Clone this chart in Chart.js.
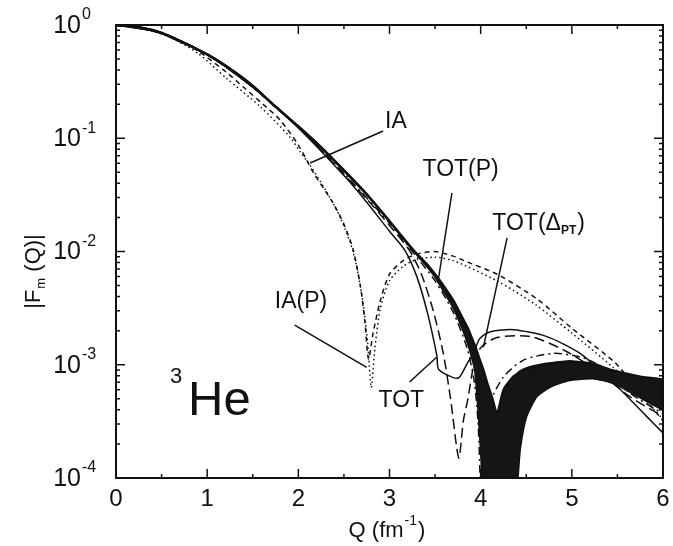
<!DOCTYPE html>
<html lang="en">
<head>
<meta charset="UTF-8">
<title>3He magnetic form factor</title>
<script src="https://cdn.jsdelivr.net/npm/chart.js"></script>
<style>
  body { margin: 0; background: #fff; }
  #formFactor { display: block; }
</style>
</head>
<body>
<canvas id="formFactor" width="673" height="546"></canvas>
<script>
const FONT = '"Liberation Sans", Arial, Helvetica, sans-serif';

// shaded band: upper and lower edge on a common Q grid
const bandQ  = [0, 0.25, 0.5, 0.75, 1.0, 1.25, 1.5, 1.75, 2.0, 2.25, 2.5, 2.75, 3.0, 3.25, 3.4, 3.5, 3.6, 3.7, 3.8, 3.86, 3.9, 3.94, 3.98, 4.01, 4.03, 4.07, 4.13, 4.18, 4.25, 4.36, 4.40, 4.43, 4.5, 4.61, 4.72, 4.8, 4.94, 5.01, 5.23, 5.45, 5.74, 6.0];
const bandHi = [1, 0.955, 0.85, 0.69, 0.55, 0.41, 0.29, 0.19, 0.127, 0.083, 0.052, 0.032, 0.0185, 0.0105, 7.9e-3, 6.3e-3, 4.9e-3, 3.7e-3, 2.6e-3, 2.1e-3, 1.75e-3, 1.45e-3, 1.17e-3, 1.0e-3, 9.0e-4, 7.0e-4, 5.0e-4, 3.7e-4, 6.0e-4, 7.9e-4, 8.3e-4, 8.7e-4, 9.3e-4, 9.8e-4, 1.02e-3, 1.04e-3, 1.07e-3, 1.07e-3, 1.02e-3, 8.9e-4, 7.9e-4, 7.4e-4];
const bandLo = [1, 0.955, 0.85, 0.69, 0.55, 0.41, 0.29, 0.19, 0.127, 0.083, 0.052, 0.032, 0.0185, 0.0105, 7.6e-3, 6.0e-3, 4.4e-3, 3.2e-3, 2.1e-3, 1.55e-3, 1.2e-3, 8.9e-4, 3.5e-4, 1.4e-4, 5e-5, 5e-5, 5e-5, 5e-5, 5e-5, 5e-5, 8.9e-5, 1.8e-4, 3.5e-4, 5.2e-4, 6.1e-4, 6.6e-4, 7.2e-4, 7.4e-4, 7.6e-4, 6.9e-4, 5.2e-4, 4.0e-4];

// IA (short dashes)
const iaQ   = [0, 0.3, 0.6, 0.9, 1.2, 1.4, 1.6, 1.8, 2.0, 2.17, 2.38, 2.5, 2.6, 2.68, 2.73, 2.77, 2.82, 2.9, 3.0, 3.15, 3.3, 3.5, 3.7, 3.85, 4.18, 4.62, 5.0, 5.47, 5.7, 6.0];
const iaVal = [1, 0.933, 0.794, 0.589, 0.389, 0.282, 0.204, 0.145, 0.0871, 0.049, 0.0269, 0.0174, 0.0105, 5.0e-3, 2.4e-3, 1.12e-3, 1.9e-3, 3.7e-3, 6.3e-3, 8.3e-3, 9.5e-3, 1.0e-2, 9.1e-3, 8.1e-3, 6.3e-3, 3.8e-3, 2.1e-3, 1.05e-3, 6.3e-4, 3.2e-4];

// IA(P) (dotted)
const iapQ   = [0, 0.3, 0.6, 0.9, 1.21, 1.58, 1.91, 2.02, 2.13, 2.3, 2.46, 2.6, 2.7, 2.76, 2.8, 2.84, 2.9, 3.0, 3.15, 3.3, 3.5, 3.7, 4.18, 4.6, 5.0, 5.45, 5.7, 6.0];
const iapVal = [1, 0.933, 0.776, 0.562, 0.339, 0.191, 0.102, 0.0759, 0.0575, 0.0347, 0.02, 0.01, 3.98e-3, 1.58e-3, 6.3e-4, 1.41e-3, 3.16e-3, 5.5e-3, 7.4e-3, 8.5e-3, 8.9e-3, 8.3e-3, 5.5e-3, 3.4e-3, 1.9e-3, 9.5e-4, 6.0e-4, 3.3e-4];

// TOT (thin solid)
const totQ   = [0, 0.5, 1.0, 1.5, 2.0, 2.5, 2.73, 3.0, 3.17, 3.3, 3.42, 3.52, 3.54, 3.75, 3.85, 3.92, 3.99, 4.1, 4.36, 4.72, 5.09, 5.46, 5.82, 6.0];
const totVal = [1, 0.851, 0.55, 0.282, 0.123, 0.0468, 0.0285, 0.0151, 0.0102, 6.0e-3, 2.8e-3, 1.2e-3, 9.1e-4, 7.6e-4, 1.02e-3, 1.26e-3, 1.7e-3, 1.95e-3, 2.04e-3, 1.78e-3, 1.26e-3, 6.9e-4, 3.5e-4, 2.5e-4];

// TOT(P) (long dashes)
const totpQ   = [0, 0.5, 1.0, 1.5, 2.0, 2.5, 2.76, 3.0, 3.22, 3.35, 3.48, 3.59, 3.67, 3.76, 3.81, 3.86, 3.92, 4.0, 4.18, 4.54, 4.91, 5.27, 5.64, 6.0];
const totpVal = [1, 0.851, 0.55, 0.282, 0.126, 0.0479, 0.0285, 0.017, 0.0102, 6.3e-3, 3.0e-3, 1.26e-3, 5.0e-4, 1.5e-4, 3.2e-4, 5.0e-4, 9.5e-4, 1.41e-3, 1.74e-3, 1.78e-3, 1.35e-3, 8.9e-4, 5.2e-4, 3.5e-4];

// TOT(Delta_PT) (dash-dot)
const totdQ   = [0, 0.5, 1.0, 1.5, 2.0, 2.5, 3.0, 3.3, 3.5, 3.7, 3.85, 3.93, 3.97, 3.99, 4.005, 4.04, 4.06, 4.10, 4.25, 4.47, 4.80, 5.09, 5.27, 5.64, 6.0];
const totdVal = [1, 0.851, 0.55, 0.282, 0.126, 0.049, 0.0178, 8.9e-3, 5.5e-3, 2.9e-3, 1.41e-3, 7.1e-4, 3.2e-4, 1.26e-4, 3.2e-5, 1.58e-4, 2.8e-4, 4.6e-4, 7.8e-4, 1.1e-3, 1.26e-3, 1.17e-3, 1.02e-3, 5.6e-4, 3.7e-4];

// tick labels
const xTicks = [0, 1, 2, 3, 4, 5, 6];
const yExps  = [0, -1, -2, -3, -4];

// curve labels: [text, Q, |F|] and their pointer lines [Q1, F1, Q2, F2]
const curveLabels = [
  ['IA',     3.07, 0.139],
  ['TOT(P)', 3.78, 0.0525],
  ['IA(P)',  2.03, 3.58e-3],
  ['TOT',    3.13, 4.8e-4]
];
const deltaLabel = [4.63, 0.0175];
const pointers = [
  [2.93, 0.116, 2.13, 0.0604],
  [3.685, 0.0329, 3.53, 5.27e-3],
  [4.29, 0.0132, 4.03, 1.43e-3],
  [1.96, 2.24e-3, 2.75, 9.5e-4],
  [3.22, 7.05e-4, 3.52, 1.17e-3]
];
const heLabel = [0.79, 3.6e-4];

const pts = (qs, vs) => qs.map((q, i) => ({ x: q, y: vs[i] }));

const curve = (data, dash, width) => ({
  data: data,
  borderColor: '#111',
  borderWidth: width,
  borderDash: dash,
  fill: false,
  tension: 0.25,
  pointRadius: 0
});

const datasets = [
  {
    data: pts(bandQ, bandHi),
    borderColor: '#111',
    backgroundColor: '#151515',
    borderWidth: 2.4,
    fill: '+1',
    tension: 0.2,
    pointRadius: 0
  },
  {
    data: pts(bandQ, bandLo),
    borderColor: '#111',
    borderWidth: 2.4,
    fill: false,
    tension: 0.2,
    pointRadius: 0
  },
  curve(pts(iaQ, iaVal), [5, 4], 1.5),
  curve(pts(iapQ, iapVal), [1.5, 3], 1.5),
  curve(pts(totQ, totVal), [], 1.5),
  curve(pts(totpQ, totpVal), [10, 5], 1.5),
  curve(pts(totdQ, totdVal), [8, 4, 2, 4], 1.5)
];

pointers.forEach(p => {
  datasets.push({
    data: [{ x: p[0], y: p[1] }, { x: p[2], y: p[3] }],
    borderColor: '#111',
    borderWidth: 1.5,
    fill: false,
    tension: 0,
    pointRadius: 0
  });
});

// frame, inward ticks, tick labels, axis titles and curve labels
const framePlugin = {
  id: 'frame',
  afterDraw(chart) {
    const ctx = chart.ctx;
    const a = chart.chartArea;
    const xs = chart.scales.x;
    const ys = chart.scales.y;
    ctx.save();
    ctx.strokeStyle = '#111';
    ctx.fillStyle = '#111';
    ctx.lineWidth = 2;
    ctx.strokeRect(a.left, a.top, a.right - a.left, a.bottom - a.top);

    ctx.lineWidth = 1.5;
    ctx.beginPath();
    for (let q = 0; q <= 6.001; q += 0.5) {
      const px = xs.getPixelForValue(q);
      const len = Math.abs(q - Math.round(q)) < 1e-6 ? 9 : 4;
      ctx.moveTo(px, a.bottom); ctx.lineTo(px, a.bottom - len);
      ctx.moveTo(px, a.top); ctx.lineTo(px, a.top + len);
    }
    for (let e = -4; e <= 0; e++) {
      for (let m = 1; m <= 9; m++) {
        const v = m * Math.pow(10, e);
        if (v > 1.0001) break;
        const py = ys.getPixelForValue(v);
        const len = m === 1 ? 9 : 4;
        ctx.moveTo(a.left, py); ctx.lineTo(a.left + len, py);
        ctx.moveTo(a.right, py); ctx.lineTo(a.right - len, py);
      }
    }
    ctx.stroke();

    // x tick labels
    ctx.font = '24px ' + FONT;
    ctx.textAlign = 'center';
    ctx.textBaseline = 'middle';
    xTicks.forEach(t => ctx.fillText(String(t), xs.getPixelForValue(t), a.bottom + 21));

    // y tick labels with exponents
    yExps.forEach(e => {
      const py = ys.getPixelForValue(Math.pow(10, e));
      ctx.font = '25px ' + FONT;
      ctx.textAlign = 'right';
      ctx.textBaseline = 'middle';
      ctx.fillText('10', 81, py + 1);
      ctx.font = '16px ' + FONT;
      ctx.textAlign = 'left';
      ctx.fillText(e === 0 ? '0' : '-' + (-e), 82, py - 10);
    });

    // x title: Q (fm^-1)
    ctx.textBaseline = 'alphabetic';
    ctx.font = '22px ' + FONT;
    const tx1 = 'Q (fm', tx2 = '-1', tx3 = ')';
    const w1 = ctx.measureText(tx1).width;
    const w3 = ctx.measureText(tx3).width;
    ctx.font = '14px ' + FONT;
    const w2 = ctx.measureText(tx2).width;
    let sx = 386 - (w1 + w2 + w3) / 2;
    ctx.textAlign = 'left';
    ctx.font = '22px ' + FONT;
    ctx.fillText(tx1, sx, 537);
    ctx.font = '14px ' + FONT;
    ctx.fillText(tx2, sx + w1 + 1, 525);
    ctx.font = '22px ' + FONT;
    ctx.fillText(tx3, sx + w1 + w2 + 2, 537);

    // y title: |F_m (Q)|
    ctx.save();
    ctx.translate(40, 272);
    ctx.rotate(-Math.PI / 2);
    ctx.font = '22px ' + FONT;
    const ty1 = '|F', ty2 = 'm', ty3 = ' (Q)|';
    const v1 = ctx.measureText(ty1).width;
    const v3 = ctx.measureText(ty3).width;
    ctx.font = '13px ' + FONT;
    const v2 = ctx.measureText(ty2).width;
    let sy = -(v1 + v2 + v3) / 2;
    ctx.font = '22px ' + FONT;
    ctx.fillText(ty1, sy, 0);
    ctx.font = '13px ' + FONT;
    ctx.fillText(ty2, sy + v1 + 1, 5);
    ctx.font = '22px ' + FONT;
    ctx.fillText(ty3, sy + v1 + v2 + 1, 0);
    ctx.restore();

    // curve labels
    ctx.font = '23px ' + FONT;
    ctx.textAlign = 'center';
    ctx.textBaseline = 'middle';
    curveLabels.forEach(l => {
      ctx.fillText(l[0], xs.getPixelForValue(l[1]), ys.getPixelForValue(l[2]));
    });

    // TOT(Delta_PT)
    const dx = xs.getPixelForValue(deltaLabel[0]);
    const dy = ys.getPixelForValue(deltaLabel[1]);
    const p1 = 'TOT(\u0394', p2 = 'PT', p3 = ')';
    ctx.font = '23px ' + FONT;
    const d1 = ctx.measureText(p1).width;
    const d3 = ctx.measureText(p3).width;
    ctx.font = 'bold 12px ' + FONT;
    const d2 = ctx.measureText(p2).width;
    let sd = dx - (d1 + d2 + d3) / 2;
    ctx.textAlign = 'left';
    ctx.font = '23px ' + FONT;
    ctx.fillText(p1, sd, dy);
    ctx.font = 'bold 12px ' + FONT;
    ctx.fillText(p2, sd + d1, dy + 7);
    ctx.font = '23px ' + FONT;
    ctx.fillText(p3, sd + d1 + d2 + 1, dy);

    // 3He
    const hx = xs.getPixelForValue(heLabel[0]);
    const hy = ys.getPixelForValue(heLabel[1]);
    ctx.textBaseline = 'alphabetic';
    ctx.font = '22px ' + FONT;
    ctx.fillText('3', hx - 18, hy - 32);
    ctx.font = '49px ' + FONT;
    ctx.fillText('He', hx, hy);

    ctx.restore();
  }
};

const ctx = document.getElementById('formFactor').getContext('2d');
const formChart = new Chart(ctx, {
  type: 'line',
  data: { datasets: datasets },
  options: {
    responsive: false,
    animation: false,
    layout: { padding: { left: 116, right: 10, top: 25, bottom: 68 } },
    scales: {
      x: { type: 'linear', min: 0, max: 6, display: false },
      y: { type: 'logarithmic', min: 1e-4, max: 1, display: false }
    },
    plugins: {
      legend: { display: false },
      tooltip: { enabled: false }
    }
  },
  plugins: [framePlugin]
});
</script>
</body>
</html>
